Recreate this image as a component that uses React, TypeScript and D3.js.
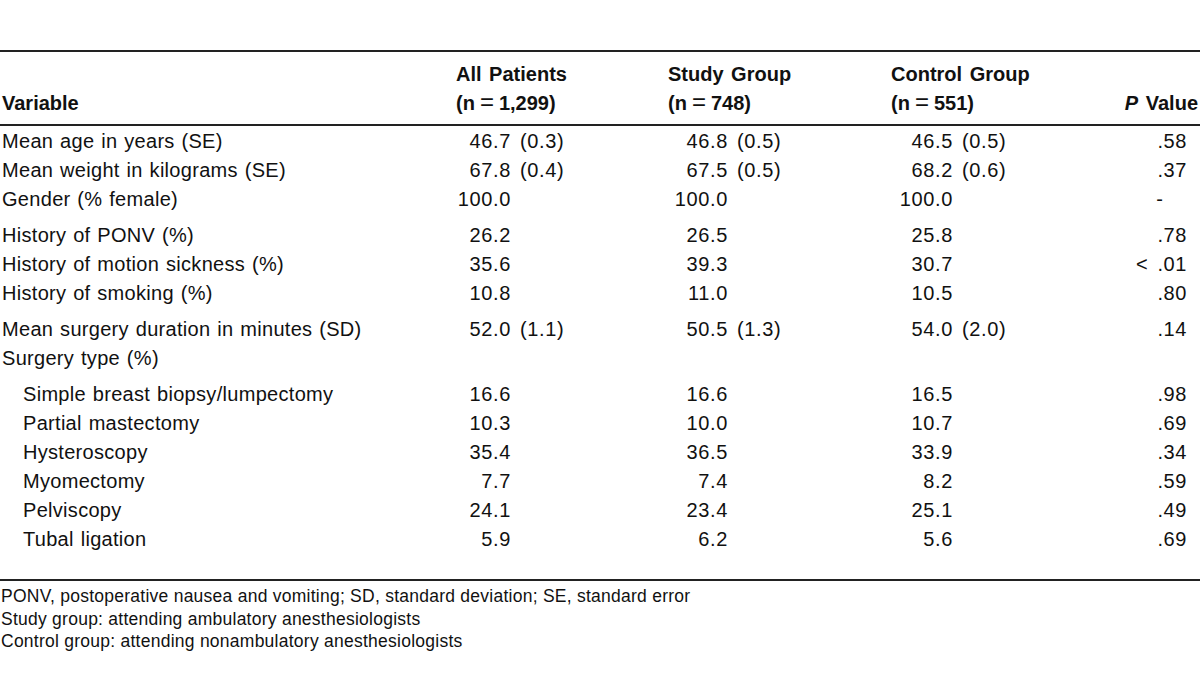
import React from "react";
import * as d3 from "d3";

const variables = [
  "Mean age in years (SE)",
  "Mean weight in kilograms (SE)",
  "Gender (% female)",
  "History of PONV (%)",
  "History of motion sickness (%)",
  "History of smoking (%)",
  "Mean surgery duration in minutes (SD)",
  "Surgery type (%)",
  "Simple breast biopsy/lumpectomy",
  "Partial mastectomy",
  "Hysteroscopy",
  "Myomectomy",
  "Pelviscopy",
  "Tubal ligation",
];
const indented = [0, 0, 0, 0, 0, 0, 0, 0, 1, 1, 1, 1, 1, 1];
const rowGroup = [0, 0, 0, 1, 1, 1, 2, 2, 3, 3, 3, 3, 3, 3];

const allMean = [46.7, 67.8, 100.0, 26.2, 35.6, 10.8, 52.0, null, 16.6, 10.3, 35.4, 7.7, 24.1, 5.9];
const allErr = [0.3, 0.4, null, null, null, null, 1.1, null, null, null, null, null, null, null];
const studyMean = [46.8, 67.5, 100.0, 26.5, 39.3, 11.0, 50.5, null, 16.6, 10.0, 36.5, 7.4, 23.4, 6.2];
const studyErr = [0.5, 0.5, null, null, null, null, 1.3, null, null, null, null, null, null, null];
const controlMean = [46.5, 68.2, 100.0, 25.8, 30.7, 10.5, 54.0, null, 16.5, 10.7, 33.9, 8.2, 25.1, 5.6];
const controlErr = [0.5, 0.6, null, null, null, null, 2.0, null, null, null, null, null, null, null];
const pValues = [".58", ".37", "-", ".78", "< .01", ".80", ".14", "", ".98", ".69", ".34", ".59", ".49", ".69"];

const headerTitles = ["All Patients", "Study Group", "Control Group"];
const headerCounts = ["1,299", "748", "551"];
const footnotes = [
  "PONV, postoperative nausea and vomiting; SD, standard deviation; SE, standard error",
  "Study group: attending ambulatory anesthesiologists",
  "Control group: attending nonambulatory anesthesiologists",
];

const FONT = "'Liberation Sans', Arial, sans-serif";

export default function App() {
  const W = 1200;
  const H = 673;
  const fs = 20;
  const pitch = 29;
  const groupGap = 7;

  const rowY = (i: number) => 148 + i * pitch + rowGroup[i] * groupGap;

  const colStart = d3.scaleOrdinal<number, number>().domain([0, 1, 2]).range([456, 668, 891]);
  const colDecimal = d3.scaleOrdinal<number, number>().domain([0, 1, 2]).range([493, 710, 935]);
  const pRight = 1187;

  const cols = [
    { mean: allMean, err: allErr },
    { mean: studyMean, err: studyErr },
    { mean: controlMean, err: controlErr },
  ];

  const labelStyle: React.CSSProperties = { fontFamily: FONT, fontSize: fs, letterSpacing: 0.3, wordSpacing: 1 };
  const numStyle: React.CSSProperties = { fontFamily: FONT, fontSize: fs, letterSpacing: 0.6, wordSpacing: 3, whiteSpace: "pre" };
  const bold: React.CSSProperties = { fontFamily: FONT, fontSize: fs, fontWeight: 700, letterSpacing: 0, wordSpacing: 2 };

  return (
    <svg width={W} height={H} style={{ position: "absolute", left: 0, top: 0, background: "#fff" }}>
      <rect x={0} y={0} width={W} height={H} fill="#fff" />
      {/* rules */}
      <rect x={0} y={50} width={W} height={2} fill="#222" />
      <rect x={0} y={124} width={W} height={2} fill="#222" />
      <rect x={0} y={579} width={W} height={2} fill="#222" />

      {/* header */}
      <text x={2} y={110} style={bold} fill="#111">Variable</text>
      {headerTitles.map((t, j) => (
        <g key={j}>
          <text x={colStart(j)} y={81} style={bold} fill="#111">{t}</text>
          <text x={colStart(j)} y={110} style={bold} fill="#111">
            {"(n"}
            <tspan dx={5} style={{ fontWeight: 400, fontSize: 24 }}>=</tspan>
            <tspan dx={5}>{headerCounts[j] + ")"}</tspan>
          </text>
        </g>
      ))}
      <text x={1198} y={110} textAnchor="end" style={bold} fill="#111">
        <tspan fontStyle="italic">P</tspan> Value
      </text>

      {/* rows */}
      {variables.map((v, i) => (
        <g key={i}>
          <text x={2 + indented[i] * 21} y={rowY(i)} style={labelStyle} fill="#111">{v}</text>
          {cols.map((c, j) => {
            const m = c.mean[i];
            if (m === null) return null;
            const s = m.toFixed(1);
            const [intPart, decPart] = s.split(".");
            const e = c.err[i];
            return (
              <g key={j}>
                <text x={colDecimal(j)} y={rowY(i)} textAnchor="end" style={numStyle} fill="#111">{intPart}</text>
                <text x={colDecimal(j)} y={rowY(i)} style={numStyle} fill="#111">
                  {"." + decPart + (e !== null ? " (" + e.toFixed(1) + ")" : "")}
                </text>
              </g>
            );
          })}
          {pValues[i] === "-" ? (
            <text x={1160} y={rowY(i)} textAnchor="middle" style={numStyle} fill="#111">-</text>
          ) : (
            <text x={pRight} y={rowY(i)} textAnchor="end" style={numStyle} fill="#111">
              {pValues[i]}
            </text>
          )}
        </g>
      ))}

      {/* footnotes */}
      {footnotes.map((f, k) => (
        <text key={k} x={1} y={602 + k * 22.5} style={{ fontFamily: FONT, fontSize: 17.5, letterSpacing: 0.25 }} fill="#111">{f}</text>
      ))}
    </svg>
  );
}
